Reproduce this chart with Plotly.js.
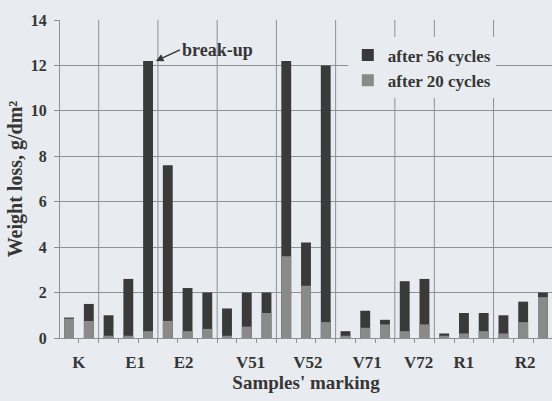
<!DOCTYPE html>
<html>
<head>
<meta charset="utf-8">
<script src="https://cdn.plot.ly/plotly-3.0.1.min.js"></script>
<style>
  html, body { margin: 0; padding: 0; background: #e8ebef; }
  #chart { width: 552px; height: 401px; }
</style>
</head>
<body>
<div id="chart"></div>
<script>
// Weight loss per sample after freeze-thaw cycling, g/dm²
const samples   = ['K','E1','E2','V51','V52','V71','V72','R1','R2'];
const samplePos = [0.5, 3.35, 5.8, 9.2, 12.1, 15.1, 17.7, 20, 23.1];

const specimen = [0,1,2,3,4,5,6,7,8,9,10,11,12,13,14,15,16,17,18,19,20,21,22,23,24];
const after56  = [0.9,1.5,1.0,2.6,12.2,7.6,2.2,2.0,1.3,2.0,2.0,12.2,4.2,12.0,0.3,1.2,0.8,2.5,2.6,0.2,1.1,1.1,1.0,1.6,2.0];
const after20  = [0.85,0.75,0.1,0.1,0.3,0.75,0.3,0.4,0.1,0.5,1.1,3.6,2.3,0.7,0.1,0.45,0.6,0.3,0.6,0.1,0.2,0.3,0.2,0.7,1.8];

// boundaries between sample groups
const groupEdges = [1.5, 4.5, 7.5, 10.5, 13.5, 16.5, 18.5, 21.5];
// boundaries between individual specimens (small ticks on the category axis)
const specimenEdges = specimen.map(i => i - 0.5).concat([24.5]);

const bg = '#e8ebef';
const ink = '#363636';
const grid = '#8e9094';
const serif = 'Liberation Serif, Times New Roman, serif';

const traces = [
  {
    type: 'bar', name: 'after 56 cycles',
    x: specimen, y: after56, width: 0.5,
    marker: { color: '#3a3a3a', line: { width: 0 } }
  },
  {
    type: 'bar', name: 'after 20 cycles',
    x: specimen, y: after20, width: 0.5,
    marker: { color: '#8a8a8a', line: { width: 0 } }
  },
  // invisible companion trace that carries the specimen tick marks
  {
    type: 'scatter', x: [0], y: [0], xaxis: 'x2', yaxis: 'y',
    mode: 'markers', marker: { opacity: 0 }, showlegend: false, hoverinfo: 'skip'
  }
];

const shapes = groupEdges.map(e => ({
  type: 'line', xref: 'x', yref: 'paper', x0: e, x1: e, y0: 0, y1: 1,
  line: { color: grid, width: 1 }, layer: 'below'
}));

const layout = {
  width: 552, height: 401,
  margin: { l: 60, r: 0, t: 20, b: 63 },
  paper_bgcolor: bg, plot_bgcolor: bg,
  barmode: 'overlay',
  font: { family: serif, color: ink, size: 15, weight: 'bold' },
  xaxis: {
    range: [-0.46, 24.46],
    tickmode: 'array', tickvals: samplePos, ticktext: samples,
    ticks: '', showgrid: false, zeroline: false,
    showline: true, linecolor: grid, linewidth: 1,
    ticklabelstandoff: 9,
    tickfont: { family: serif, size: 17, color: ink, weight: 'bold' },
    title: { text: "Samples' marking", font: { family: serif, size: 19, color: ink, weight: 'bold' }, standoff: 3 }
  },
  xaxis2: {
    overlaying: 'x', anchor: 'y', side: 'bottom',
    range: [-0.46, 24.46],
    tickmode: 'array', tickvals: specimenEdges,
    ticks: 'outside', ticklen: 4, tickcolor: grid, tickwidth: 1,
    showticklabels: false, showgrid: false, zeroline: false, showline: false
  },
  yaxis: {
    range: [0, 14], dtick: 2,
    showgrid: true, gridcolor: grid, gridwidth: 1,
    zeroline: false, showline: true, linecolor: grid, linewidth: 1,
    ticks: 'outside', ticklen: 5, tickcolor: grid,
    ticklabelstandoff: 4,
    tickfont: { family: serif, size: 16, color: ink, weight: 'bold' },
    title: { text: 'Weight loss, g/dm²', font: { family: serif, size: 20, color: ink, weight: 'bold' }, standoff: 2 }
  },
  legend: {
    x: 0.585, y: 0.945, xanchor: 'left', yanchor: 'top',
    bgcolor: bg, borderwidth: 0,
    font: { family: serif, size: 17, color: ink, weight: 'bold' },
    itemwidth: 30
  },
  shapes: shapes,
  annotations: [{
    x: 4.4, y: 12.2, xref: 'x', yref: 'y',
    text: 'break-up', showarrow: true,
    ax: 24, ay: -11, xanchor: 'left',
    arrowhead: 2, arrowsize: 1, arrowwidth: 1.5, arrowcolor: ink,
    font: { family: serif, size: 18, color: ink, weight: 'bold' }
  }],
  showlegend: true
};

Plotly.newPlot('chart', traces, layout, { displayModeBar: false, staticPlot: true });
</script>
</body>
</html>
